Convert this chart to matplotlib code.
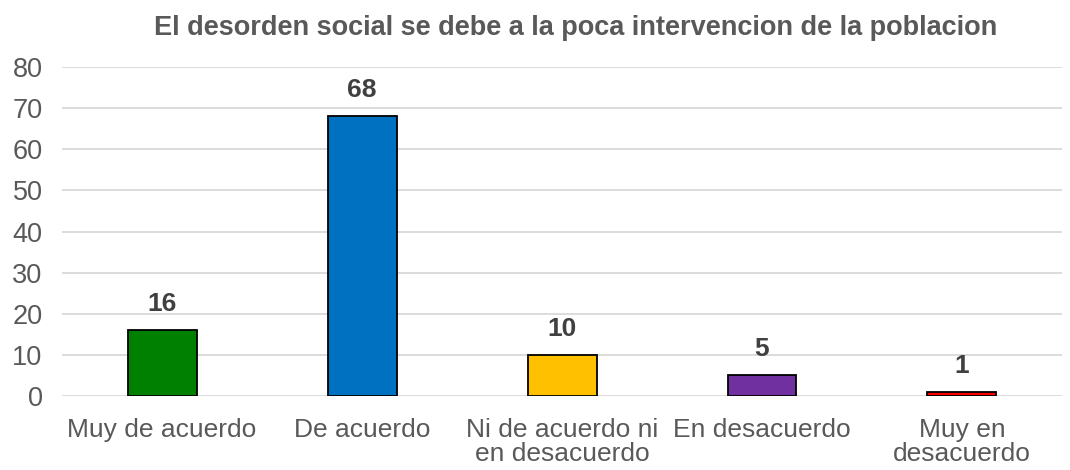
import numpy as np
import matplotlib.pyplot as plt

categories = ["Muy de acuerdo", "De acuerdo", "Ni de acuerdo ni\nen desacuerdo",
              "En desacuerdo", "Muy en\ndesacuerdo"]
values = [16, 68, 10, 5, 1]
colors = ["#008000", "#0070C0", "#FFC000", "#7030A0", "#FF0000"]
title = "El desorden social se debe a la poca intervencion de la poblacion"

plt.rcParams["font.family"] = ["Liberation Sans", "DejaVu Sans"]
text_color = "#595959"

fig = plt.figure(figsize=(10.7, 4.7), dpi=100)
ax = fig.add_axes([0.058, 0.1574, 0.9345, 0.70])

x = np.arange(len(categories))
bars = ax.bar(x, values, width=0.345, color=colors, edgecolor="black", linewidth=1.3, zorder=3)

for b, v in zip(bars, values):
    ax.text(b.get_x() + b.get_width() / 2, v + 3.5, str(v), ha="center", va="bottom",
            fontsize=19, fontweight="bold", color="#404040")

ax.set_xlim(-0.5, len(categories) - 0.5)
ax.set_ylim(0, 80)
ax.set_yticks(range(0, 81, 10))
ax.set_xticks(x)
ax.set_xticklabels(categories, fontsize=19, color=text_color, linespacing=1.0)
ax.tick_params(axis="y", labelsize=19.5, labelcolor=text_color, length=0, pad=14)
ax.tick_params(axis="x", length=0, pad=16)
ax.grid(axis="y", color="#D9D9D9", linewidth=1.3, zorder=0)
for s in ax.spines.values():
    s.set_visible(False)

fig.text(0.538, 0.94, title, ha="center", va="center", fontsize=19.5,
         fontweight="bold", color=text_color)

fig.savefig("out.png", dpi=100)
